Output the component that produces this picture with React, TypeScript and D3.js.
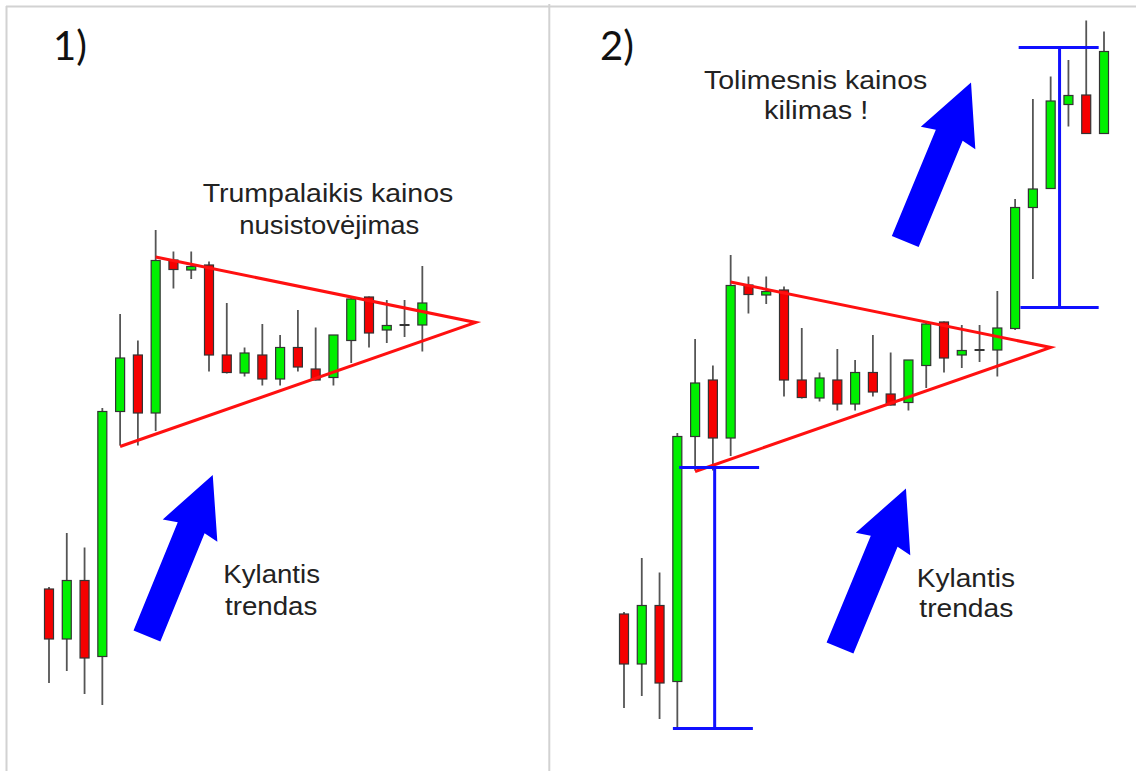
import React from 'react';
import * as d3 from 'd3';

// ---- Candle data (price units) ----
const candleIndex = d3.range(28);
const opens = [34.2, 24.2, 35.9, 20.7, 69.7, 81.0, 69.4, 100.0, 98.0, 99.0, 81.0, 77.4, 81.0, 76.2, 82.5, 78.2, 76.5, 83.9, 92.6, 86.0, 87.0, 87.0, 91.3, 115.5, 119.3, 136.1, 138.0, 130.3];
const highs = [34.6, 45.4, 42.5, 70.4, 89.2, 83.9, 106.0, 101.7, 101.7, 99.7, 91.4, 82.5, 87.2, 85.0, 90.0, 86.5, 85.0, 92.4, 92.7, 92.0, 92.0, 98.8, 117.2, 137.2, 141.7, 145.0, 152.9, 150.7];
const lows = [15.4, 17.8, 13.2, 11.0, 62.9, 62.9, 65.8, 94.3, 96.2, 77.7, 77.3, 76.7, 74.9, 74.9, 77.7, 75.9, 74.9, 79.4, 82.5, 83.4, 84.6, 81.7, 91.0, 101.2, 119.3, 131.7, 130.3, 130.3];
const closes = [24.2, 35.9, 20.4, 69.7, 80.4, 69.4, 99.9, 98.1, 98.7, 81.0, 77.5, 81.4, 76.2, 82.5, 78.6, 76.0, 85.0, 92.2, 85.4, 86.9, 87.0, 91.4, 115.5, 119.2, 136.8, 137.9, 130.3, 146.7];

// panel 1 shows the first 22 candles, panel 2 all 28
const panelCounts = [22, 28];
const panelLabels = ['1)', '2)'];

// symmetrical triangle: lower start, apex, upper start
const triIdx = [4, 24, 6];
const triPrice = [62.7, 87.5, 100.6];

// measured move bars (panel 2)
const measureX = [5.1, 24.5];
const measureBase = [11.3, 95.5];
const measureTop = [63.5, 147.5];
const measureTopSpan = [[3.1, 7.6], [22.2, 26.7]];
const measureBotSpan = [[2.75, 7.25], [22.3, 26.7]];

// arrows: tail (index, price) -> tip (index, price), in panel coordinates
const arrowPanel = [0, 1, 1];
const arrowTail = [[5.51, 24.8], [12.15, 27.4], [15.82, 108.7]];
const arrowTip = [[9.21, 57.0], [15.86, 59.3], [19.52, 140.5]];

// texts
const textLines = ['Trumpalaikis kainos', 'nusistovėjimas', 'Kylantis', 'trendas', 'Tolimesnis kainos', 'kilimas !', 'Kylantis', 'trendas'];
const textX0 = [202.7, 239.3, 223.3, 225, 704, 764, 916.7, 919.3];
const textX1 = [453.3, 419.3, 320, 317.3, 927.3, 868.3, 1015, 1013.3];
const textBase = [201.5, 233.5, 583.3, 615, 89.3, 119.3, 586.7, 616.7];

const W = 1136;
const H = 771;
const panelOffsets = [[0, 0], [575, 25]];

const xScale = d3.scaleLinear().domain([0, 27]).range([49, 529]);
const yScale = d3.scaleLinear().domain([0, 150]).range([760, 10]);

function arrowPath(tx: number, ty: number, hx: number, hy: number) {
  const dx = hx - tx, dy = hy - ty;
  const L = Math.hypot(dx, dy);
  const ux = dx / L, uy = dy / L;
  const nx = -uy, ny = ux;
  const sw = 14.5, hw = 29.5, hl = 57;
  const pts: [number, number][] = [
    [0, -sw], [L - hl, -sw], [L - hl - 3, -hw], [L, 0], [L - hl - 3, hw], [L - hl, sw], [0, sw],
  ];
  const line = d3.line();
  return line(pts.map(([a, b]) => [tx + ux * a + nx * b, ty + uy * a + ny * b])) + 'Z';
}

export default function App() {
  const line = d3.line();
  return (
    <svg width={W} height={H} style={{ position: 'absolute', left: 0, top: 0, background: '#fff' }}
      fontFamily="'Liberation Sans', Arial, sans-serif">
      <rect width={W} height={H} fill="#fff" />
      {/* panel borders */}
      <line x1={6} y1={6.5} x2={W} y2={6.5} stroke="#d2d2d2" strokeWidth={2} />
      <line x1={6.5} y1={6} x2={6.5} y2={H} stroke="#d2d2d2" strokeWidth={2} />
      <line x1={549.3} y1={4} x2={549.3} y2={H} stroke="#d2d2d2" strokeWidth={2} />

      {panelCounts.map((n, p) => {
        const [ox, oy] = panelOffsets[p];
        const idx = candleIndex.slice(0, n);
        return (
          <g key={p} transform={`translate(${ox},${oy})`}>
            {idx.map((i) => {
              const x = xScale(i);
              const o = opens[i], c = closes[i];
              const up = c >= o;
              const top = yScale(Math.max(o, c));
              const bot = yScale(Math.min(o, c));
              const h = bot - top;
              return (
                <g key={i}>
                  <line x1={x} x2={x} y1={yScale(highs[i])} y2={yScale(lows[i])} stroke="#555" strokeWidth={1.8} />
                  {h < 1 ? (
                    <rect x={x - 5} y={top - 1} width={10} height={2} fill="#333" />
                  ) : (
                    <rect x={x - 4.5} y={top} width={9} height={h} fill={up ? '#00f000' : '#f50000'} stroke="#333" strokeWidth={1.2} />
                  )}
                </g>
              );
            })}
            <path
              d={line(triIdx.map((ti, k) => [xScale(ti), yScale(triPrice[k])]))!}
              fill="none" stroke="#ff1010" strokeWidth={3} strokeLinejoin="miter" />
            {p === 1 && measureX.map((mx, k) => (
              <g key={k} stroke="#1010ff" strokeWidth={3}>
                <line x1={xScale(mx)} x2={xScale(mx)} y1={yScale(measureTop[k])} y2={yScale(measureBase[k])} />
                <line x1={xScale(measureTopSpan[k][0])} x2={xScale(measureTopSpan[k][1])} y1={yScale(measureTop[k])} y2={yScale(measureTop[k])} />
                <line x1={xScale(measureBotSpan[k][0])} x2={xScale(measureBotSpan[k][1])} y1={yScale(measureBase[k])} y2={yScale(measureBase[k])} />
              </g>
            ))}
            {arrowPanel.map((ap, k) => ap === p ? (
              <path key={k}
                d={arrowPath(xScale(arrowTail[k][0]), yScale(arrowTail[k][1]), xScale(arrowTip[k][0]), yScale(arrowTip[k][1]))}
                fill="#0000ff" />
            ) : null)}
          </g>
        );
      })}

      {textLines.map((t, k) => (
        <text key={k} x={textX0[k]} y={textBase[k]} fontSize={26} fill="#222"
          textLength={textX1[k] - textX0[k]} lengthAdjust="spacingAndGlyphs">{t}</text>
      ))}

      {panelLabels.map((l, k) => (
        <text key={l} x={k === 0 ? 53 : 600} y={60} fontSize={40} fill="#111"
          fontFamily="Lato, 'Open Sans', sans-serif">{l}</text>
      ))}
    </svg>
  );
}
